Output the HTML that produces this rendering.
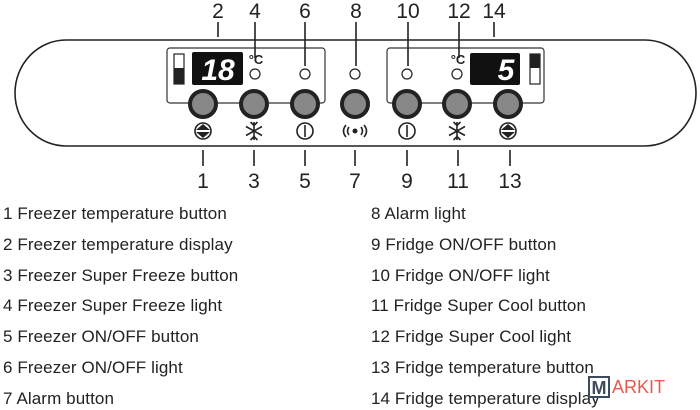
<!DOCTYPE html>
<html><head><style>
body{margin:0;background:#fff;width:700px;height:410px;overflow:hidden;position:relative;font-family:"Liberation Sans",sans-serif}
.t{position:absolute;font-size:17px;color:#222;white-space:nowrap;line-height:18px;letter-spacing:0.1px}
</style></head><body>
<svg width="700" height="410" style="position:absolute;left:0;top:0" font-family="Liberation Sans">
<path d="M66 40 H645 A51 53 0 0 1 645 146 H66 A51 53 0 0 1 66 40 Z" fill="none" stroke="#222" stroke-width="1.6"/>
<rect x="167" y="48" width="158" height="55" rx="3" fill="none" stroke="#333" stroke-width="1.2"/>
<rect x="387" y="48" width="157" height="55" rx="3" fill="none" stroke="#333" stroke-width="1.2"/>
<rect x="174" y="54" width="10" height="30" fill="#fff" stroke="#222" stroke-width="1.2"/>
<rect x="174" y="68" width="10" height="16" fill="#222"/>
<rect x="530" y="54" width="10" height="30" fill="#fff" stroke="#222" stroke-width="1.2"/>
<rect x="530" y="54" width="10" height="14" fill="#222"/>
<rect x="192" y="52" width="51" height="33" rx="2" fill="#111"/>
<text x="218" y="80" font-size="30" font-style="italic" font-weight="bold" fill="#fff" text-anchor="middle">18</text>
<rect x="470" y="53" width="50" height="32" rx="2" fill="#111"/>
<text x="506" y="80" font-size="30" font-style="italic" font-weight="bold" fill="#fff" text-anchor="middle">5</text>
<text x="256" y="64" font-size="13" font-weight="bold" fill="#222" text-anchor="middle">°C</text>
<text x="458" y="64" font-size="13" font-weight="bold" fill="#222" text-anchor="middle">°C</text>
<g fill="#fff" stroke="#222" stroke-width="1.2">
<circle cx="255" cy="74" r="5"/><circle cx="305" cy="74" r="5"/><circle cx="355" cy="74" r="5"/><circle cx="407" cy="74" r="5"/><circle cx="457" cy="74" r="5"/>
</g>
<g fill="#888" stroke="#222" stroke-width="4">
<circle cx="203" cy="104" r="13"/><circle cx="254" cy="104" r="13"/><circle cx="305" cy="104" r="13"/><circle cx="355" cy="104" r="13"/><circle cx="407" cy="104" r="13"/><circle cx="457" cy="104" r="13"/><circle cx="508" cy="104" r="13"/>
</g>
<g stroke="#222" stroke-width="1.6" fill="none">
<circle cx="203" cy="131" r="8"/><circle cx="508" cy="131" r="8"/>
<circle cx="305" cy="131" r="8"/><line x1="305" y1="125" x2="305" y2="137"/>
<circle cx="407" cy="131" r="8"/><line x1="407" y1="125" x2="407" y2="137"/>
<path d="M254 122V140M246 126.5L262 135.5M246 135.5L262 126.5M250.5 122L254 125.5L257.5 122M250.5 140L254 136.5L257.5 140"/>
<path d="M457 122V140M449 126.5L465 135.5M449 135.5L465 126.5M453.5 122L457 125.5L460.5 122M453.5 140L457 136.5L460.5 140"/>
<path d="M349 127Q346 131 349 135M361 127Q364 131 361 135M346 125Q341 131 346 137M364 125Q369 131 364 137"/>
<line x1="218" y1="22" x2="218" y2="37"/><line x1="255" y1="22" x2="255" y2="58"/><line x1="305" y1="22" x2="305" y2="66"/><line x1="356" y1="22" x2="356" y2="66"/><line x1="408" y1="22" x2="408" y2="66"/><line x1="459" y1="22" x2="459" y2="58"/><line x1="494" y1="22" x2="494" y2="37"/>
<line x1="203" y1="150" x2="203" y2="166"/><line x1="254" y1="150" x2="254" y2="166"/><line x1="305" y1="150" x2="305" y2="166"/><line x1="355" y1="150" x2="355" y2="166"/><line x1="407" y1="150" x2="407" y2="166"/><line x1="458" y1="150" x2="458" y2="166"/><line x1="510" y1="150" x2="510" y2="166"/>
</g>
<path d="M196 130 L203 124 L210 130Z M196 132 L203 138 L210 132Z" fill="#222"/>
<path d="M501 130 L508 124 L515 130Z M501 132 L508 138 L515 132Z" fill="#222"/>
<circle cx="355" cy="131" r="2.5" fill="#222"/>
<g font-size="21" fill="#222" text-anchor="middle">
<text x="218" y="18">2</text><text x="255" y="18">4</text><text x="305" y="18">6</text><text x="356" y="18">8</text><text x="408" y="18">10</text><text x="459" y="18">12</text><text x="494" y="18">14</text>
<text x="203" y="188">1</text><text x="254" y="188">3</text><text x="305" y="188">5</text><text x="355" y="188">7</text><text x="407" y="188">9</text><text x="458" y="188">11</text><text x="510" y="188">13</text>
</g>
</svg>
<div class="t" style="left:3px;top:205px">1 Freezer temperature button</div>
<div class="t" style="left:3px;top:236px">2 Freezer temperature display</div>
<div class="t" style="left:3px;top:267px">3 Freezer Super Freeze button</div>
<div class="t" style="left:3px;top:297px">4 Freezer Super Freeze light</div>
<div class="t" style="left:3px;top:328px">5 Freezer ON/OFF button</div>
<div class="t" style="left:3px;top:359px">6 Freezer ON/OFF light</div>
<div class="t" style="left:3px;top:390px">7 Alarm button</div>
<div class="t" style="left:371px;top:205px">8 Alarm light</div>
<div class="t" style="left:371px;top:236px">9 Fridge ON/OFF button</div>
<div class="t" style="left:371px;top:267px">10 Fridge ON/OFF light</div>
<div class="t" style="left:371px;top:297px">11 Fridge Super Cool button</div>
<div class="t" style="left:371px;top:328px">12 Fridge Super Cool light</div>
<div class="t" style="left:371px;top:359px">13 Fridge temperature button</div>
<div class="t" style="left:371px;top:390px">14 Fridge temperature display</div>
<div style="position:absolute;left:588px;top:376px;width:22px;height:22px;background:#fff;border:2px solid #3d4a5c;box-sizing:border-box;font:bold 18px 'Liberation Sans';color:#3d4a5c;text-align:center;line-height:20px">M</div>
<div style="position:absolute;left:612px;top:377px;font:18px 'Liberation Sans';color:#e85a50;background:#fff;line-height:20px">ARKIT</div>
</body></html>
